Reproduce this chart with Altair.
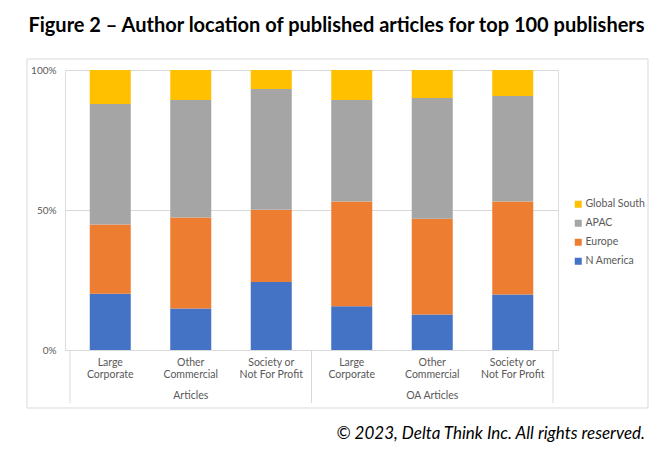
import altair as alt
import pandas as pd

# ---- data ----
positions = [0, 1, 2, 3, 4, 5]
category_labels = ["Large\nCorporate", "Other\nCommercial", "Society or\nNot For Profit",
                   "Large\nCorporate", "Other\nCommercial", "Society or\nNot For Profit"]
groups = ["Articles", "Articles", "Articles", "OA Articles", "OA Articles", "OA Articles"]
n_america = [20.1, 14.8, 24.3, 15.6, 12.7, 19.8]
europe = [24.7, 32.5, 25.8, 37.4, 34.2, 33.2]
apac = [43.1, 42.0, 43.1, 36.3, 43.1, 37.7]
global_south = [12.1, 10.7, 6.8, 10.7, 10.0, 9.3]
regions = ["Global South", "APAC", "Europe", "N America"]
region_colors = ["#FFC000", "#A5A5A5", "#ED7D31", "#4472C4"]
group_edges = [-0.5, 2.5, 5.5]
title_text = "Figure 2 \u2013 Author location of published articles for top 100 publishers"
footer_text = "\u00a9 2023, Delta Think Inc. All rights reserved."

FONT = "Lato"
GRID = "#d9d9d9"
LABEL = "#595959"

bars_df = pd.DataFrame({"pos": positions, "label": category_labels, "group": groups})
series = {"N America": n_america, "Europe": europe, "APAC": apac, "Global South": global_south}
stack_rank = {"N America": 0, "Europe": 1, "APAC": 2, "Global South": 3}
rows = []
for name, vals in series.items():
    for p, v in zip(positions, vals):
        rows.append({"pos": p, "region": name, "value": v, "rank": stack_rank[name]})
df = pd.DataFrame(rows)
edges_df = pd.DataFrame({"edge": group_edges})
text_df = pd.DataFrame({"title": [title_text], "footer": [footer_text]})

xscale = alt.Scale(domain=[-0.5, 5.5], nice=False, zero=False)

bars = alt.Chart(df).mark_bar(size=41, orient="vertical").encode(
    x=alt.X("pos:Q", scale=xscale, axis=None),
    y=alt.Y("value:Q", stack="normalize", scale=alt.Scale(domain=[0, 1]),
            axis=alt.Axis(values=[0, 0.5, 1], format="%", grid=True, gridColor=GRID,
                          domain=False, ticks=False, labelPadding=9, labelColor=LABEL,
                          labelFont=FONT, labelFontSize=10, title=None)),
    color=alt.Color("region:N", scale=alt.Scale(domain=regions, range=region_colors),
                    legend=alt.Legend(title=None, orient="none", legendX=508, legendY=129,
                                      symbolType="square", symbolSize=49, labelFont=FONT,
                                      labelFontSize=10.5, labelColor=LABEL, rowPadding=8,
                                      labelOffset=2, padding=0)),
    order=alt.Order("rank:Q"),
)

cat_labels = alt.Chart(bars_df).mark_text(
    lineBreak="\n", baseline="top", align="center", font=FONT, fontSize=10.5,
    color=LABEL, lineHeight=12.3
).encode(x=alt.X("pos:Q", scale=xscale), y=alt.value(287.5), text="label:N")

group_labels = alt.Chart(bars_df).mark_text(
    baseline="middle", align="center", font=FONT, fontSize=10.5, color=LABEL
).encode(x=alt.X("mean(pos):Q", scale=xscale), y=alt.value(326), text="group:N")

dividers = alt.Chart(edges_df).mark_rule(color=GRID, strokeWidth=1).encode(
    x=alt.X("edge:Q", scale=xscale), y=alt.value(280), y2=alt.value(333)
)

box = alt.Chart(text_df).mark_rect(fill="transparent", stroke=GRID, strokeWidth=1).encode(
    x=alt.value(-38), x2=alt.value(583), y=alt.value(-11), y2=alt.value(338)
)

title = alt.Chart(text_df).mark_text(
    font=FONT, fontSize=20, fontWeight="bold", color="#000000", align="center",
    baseline="alphabetic"
).encode(x=alt.value(271.5), y=alt.value(-38), text="title:N")

footer = alt.Chart(text_df).mark_text(
    font=FONT, fontSize=17, fontStyle="italic", color="#000000", align="right",
    baseline="alphabetic"
).encode(x=alt.value(580), y=alt.value(369), text="footer:N")

chart = alt.layer(box, bars, dividers, cat_labels, group_labels, title, footer).properties(
    width=493, height=280,
    autosize=alt.AutoSizeParams(type="none"),
    padding={"left": 57, "top": 62, "right": 106, "bottom": 105},
).configure_view(stroke=None).configure(background="white")

chart.save("out.html", embed_options={"renderer": "svg", "actions": False})
